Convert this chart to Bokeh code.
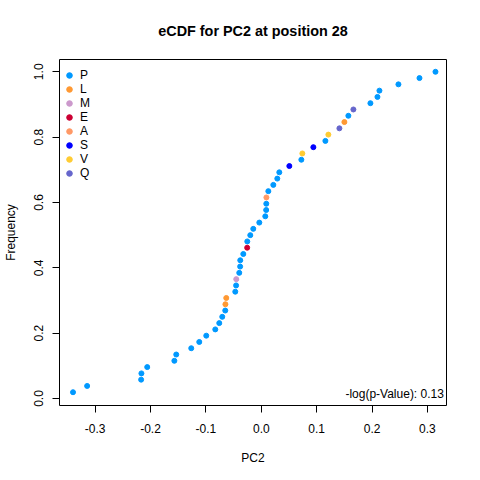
import numpy as np
from bokeh.plotting import figure
from bokeh.models import ColumnDataSource, Range1d, FixedTicker, Legend, LegendItem, Label, NumeralTickFormatter
from bokeh.embed import file_html
from bokeh.resources import INLINE

# PC2 values (sorted) and residue at each observation
pc2 = [-0.3400, -0.3145, -0.2170, -0.2165, -0.2060, -0.1570, -0.1536, -0.1265,
       -0.1120, -0.0994, -0.0831, -0.0759, -0.0705, -0.0651, -0.0648, -0.0633,
       -0.0470, -0.0455, -0.0452, -0.0398, -0.0382, -0.0380, -0.0325, -0.0255,
       -0.0253, -0.0199, -0.0145, -0.0036, 0.0072, 0.0088, 0.0090, 0.0092,
       0.0127, 0.0217, 0.0289, 0.0325, 0.0506, 0.0723, 0.0741, 0.0940,
       0.1157, 0.1211, 0.1410, 0.1500, 0.1572, 0.1663, 0.1970, 0.2097,
       0.2133, 0.2476, 0.2856, 0.3145]
residue = ["P", "P", "P", "P", "P", "P", "P", "P", "P", "P", "P", "P", "P", "P",
           "L", "L", "P", "P", "M", "P", "P", "P", "P", "E", "P", "P", "P", "P",
           "P", "P", "P", "A", "P", "P", "P", "P", "S", "P", "V", "S", "P", "V",
           "Q", "L", "P", "Q", "P", "P", "P", "P", "P", "P"]

legend_order = ["P", "L", "M", "E", "A", "S", "V", "Q"]
legend_colors = ["#0099FF", "#FF9933", "#CC99CC", "#CC0033", "#FF9966", "#0000FF", "#FFCC33", "#6666CC"]
x_ticks = [-0.3, -0.2, -0.1, 0.0, 0.1, 0.2, 0.3]
y_ticks = [0.0, 0.2, 0.4, 0.6, 0.8, 1.0]
title_text = "eCDF for PC2 at position 28"
pvalue_text = "-log(p-Value): 0.13"

# empirical CDF
order = np.argsort(np.array(pc2), kind="stable")
xs = np.array(pc2)[order]
res = [residue[i] for i in order]
n = len(xs)
freq = np.arange(1, n + 1) / n

FONT = "Liberation Sans"
X0, X1 = -0.3644, 0.3344
Y0, Y1 = -0.0214, 1.0376

p = figure(frame_width=387, frame_height=346, output_backend="svg", toolbar_location=None,
           x_range=Range1d(X0, X1), y_range=Range1d(Y0, Y1),
           min_border_left=52, min_border_right=24, min_border_top=59, min_border_bottom=62,
           title=title_text)

p.background_fill_color = "white"
p.border_fill_color = "white"
p.outline_line_color = "black"
p.outline_line_width = 1
p.xgrid.visible = False
p.ygrid.visible = False

p.title.align = "center"
p.title.text_font = FONT
p.title.text_font_size = "14.4px"
p.title.text_font_style = "bold"
p.title.text_color = "black"
p.title.standoff = 41

for ax, ticks, lab in ((p.xaxis[0], x_ticks, "PC2"), (p.yaxis[0], y_ticks, "Frequency")):
    ax.ticker = FixedTicker(ticks=ticks)
    ax.formatter = NumeralTickFormatter(format="0.0")
    ax.axis_line_color = None
    ax.major_tick_line_color = "black"
    ax.major_tick_out = 7
    ax.major_tick_in = 0
    ax.minor_tick_line_color = None
    ax.major_label_text_font = FONT
    ax.major_label_text_font_size = "12px"
    ax.major_label_text_color = "black"
    ax.axis_label = lab
    ax.axis_label_text_font = FONT
    ax.axis_label_text_font_size = "12px"
    ax.axis_label_text_font_style = "normal"
    ax.axis_label_text_color = "black"
p.xaxis[0].major_label_standoff = 11
p.xaxis[0].axis_label_standoff = 15
p.yaxis[0].major_label_standoff = 9
p.yaxis[0].axis_label_standoff = 14
p.yaxis[0].major_label_orientation = "vertical"

items = []
for lab, col in zip(legend_order, legend_colors):
    idx = [i for i, r in enumerate(res) if r == lab]
    src = ColumnDataSource(dict(x=xs[idx], y=freq[idx]))
    r = p.scatter("x", "y", source=src, size=5, color=col, line_color=col)
    items.append(LegendItem(label=lab, renderers=[r]))

legend = Legend(items=items, location=(3, 225), orientation="vertical",
                border_line_color=None, background_fill_alpha=0,
                padding=0, margin=0, spacing=0,
                glyph_width=14, glyph_height=14, label_height=14,
                label_standoff=4,
                label_text_font=FONT, label_text_font_size="12px",
                label_text_color="black", label_text_baseline="middle")
p.add_layout(legend)

p.add_layout(Label(x=0.3297, y=0.013, text=pvalue_text, text_align="right",
                   text_baseline="middle", text_font=FONT, text_font_size="12px",
                   text_color="black"))

open("out.html", "w").write(file_html(p, INLINE))
